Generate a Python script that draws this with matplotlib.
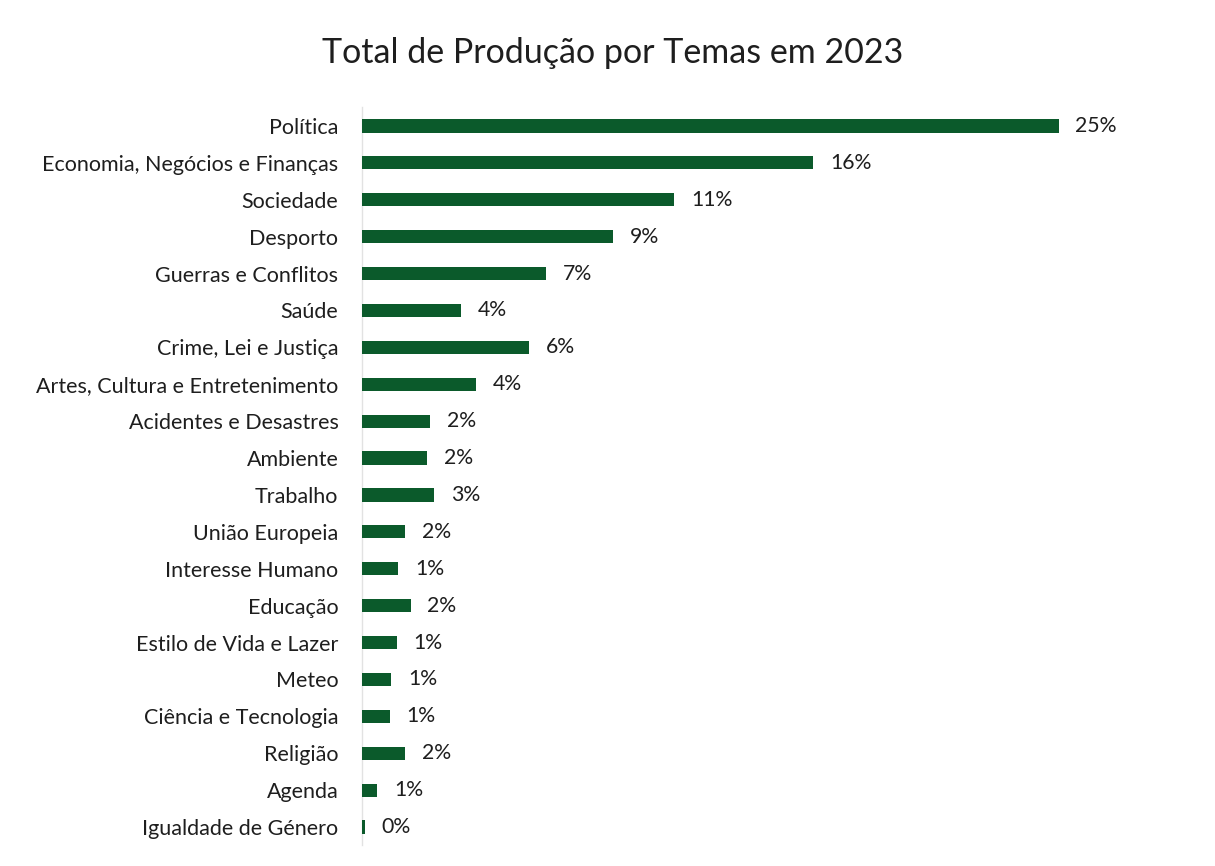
import matplotlib
matplotlib.use("Agg")
import matplotlib.pyplot as plt
import numpy as np

# Share of output per theme, 2023 (percent)
temas = [
    "Política",
    "Economia, Negócios e Finanças",
    "Sociedade",
    "Desporto",
    "Guerras e Conflitos",
    "Saúde",
    "Crime, Lei e Justiça",
    "Artes, Cultura e Entretenimento",
    "Acidentes e Desastres",
    "Ambiente",
    "Trabalho",
    "União Europeia",
    "Interesse Humano",
    "Educação",
    "Estilo de Vida e Lazer",
    "Meteo",
    "Ciência e Tecnologia",
    "Religião",
    "Agenda",
    "Igualdade de Género",
]
percentagens = [25.0, 16.2, 11.2, 9.0, 6.6, 3.55, 6.0, 4.1, 2.45, 2.35,
                2.6, 1.55, 1.3, 1.75, 1.25, 1.05, 1.0, 1.55, 0.55, 0.1]

W, H = 1215, 866
plt.rcParams["font.family"] = ["Lato", "DejaVu Sans"]
TXT = "#1e1e1e"
GREEN = "#0b5a2b"

fig = plt.figure(figsize=(W / 100, H / 100), dpi=100)
fig.patch.set_facecolor("white")

# axes placed in pixel terms: x=0 at 362px, rows from 126px to 827px
left_px, right_px = 362, 1198
top_px, bot_px = 107.5, 845.5
ax = fig.add_axes([left_px / W, 1 - bot_px / H,
                   (right_px - left_px) / W, (bot_px - top_px) / H])

y = np.arange(len(temas))
bars = ax.barh(y, percentagens, height=0.36, color=GREEN, zorder=3)

for bar, v in zip(bars, percentagens):
    ax.text(bar.get_width() + 0.6, bar.get_y() + bar.get_height() / 2,
            f"{v:.0f}%", va="center", ha="left", fontsize=15.3, color=TXT)

ax.set_xlim(0, 30)
ax.set_ylim(len(temas) - 0.5, -0.5)
ax.set_yticks(y)
ax.set_yticklabels(temas, fontsize=15.5, color=TXT)
ax.tick_params(axis="y", length=0, pad=17)
ax.set_xticks([])

for side in ("top", "right", "bottom"):
    ax.spines[side].set_visible(False)
ax.spines["left"].set_color("#e2e2e2")
ax.spines["left"].set_linewidth(1.0)

fig.text(613 / W, 1 - 53 / H, "Total de Produção por Temas em 2023",
         ha="center", va="center", fontsize=24.5, color=TXT)

fig.savefig("out.png", dpi=100, facecolor="white")
plt.close(fig)
